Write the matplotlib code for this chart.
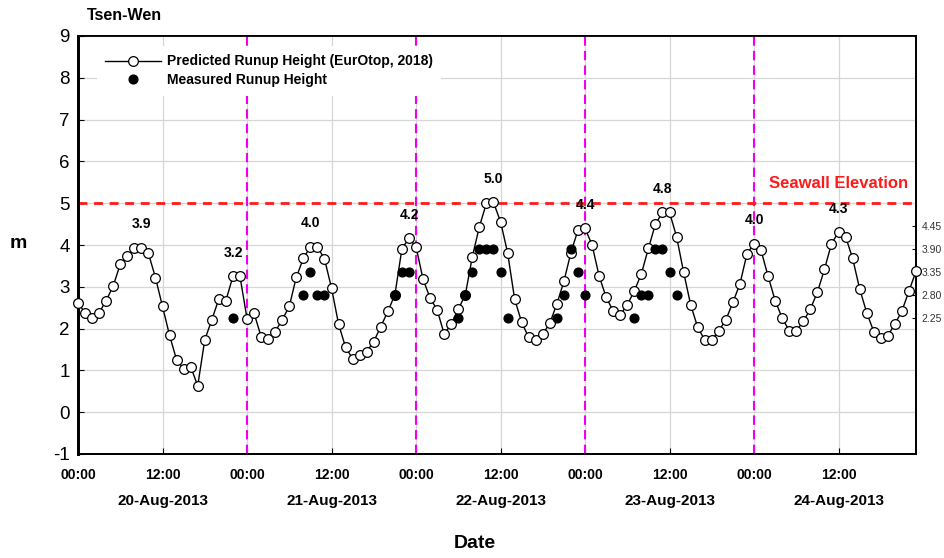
import matplotlib
matplotlib.use("Agg")
import matplotlib.pyplot as plt
import matplotlib.transforms as mtransforms

plt.rcParams['font.family'] = ['Liberation Sans', 'DejaVu Sans']
plt.rcParams['axes.unicode_minus'] = False

# ---------------- data ----------------
# hours since 20-Aug-2013 00:00 (hourly)
predicted = [
    2.61, 2.38, 2.26, 2.38, 2.67, 3.02, 3.54, 3.74, 3.92, 3.94, 3.80, 3.22,
    2.53, 1.84, 1.25, 1.04, 1.09, 0.63, 1.73, 2.21, 2.71, 2.67, 3.25, 3.25,
    2.24, 2.37, 1.81, 1.75, 1.93, 2.21, 2.53, 3.23, 3.68, 3.96, 3.95, 3.67,
    2.97, 2.11, 1.55, 1.28, 1.37, 1.45, 1.69, 2.05, 2.41, 2.81, 3.91, 4.16,
    3.96, 3.18, 2.73, 2.45, 1.87, 2.11, 2.46, 2.81, 3.72, 4.44, 5.00, 5.02,
    4.56, 3.82, 2.71, 2.15, 1.79, 1.73, 1.87, 2.13, 2.59, 3.13, 3.82, 4.36,
    4.40, 4.00, 3.26, 2.75, 2.42, 2.33, 2.57, 2.90, 3.31, 3.92, 4.50, 4.78,
    4.78, 4.20, 3.35, 2.57, 2.03, 1.73, 1.73, 1.95, 2.21, 2.63, 3.07, 3.79,
    4.03, 3.87, 3.25, 2.67, 2.25, 1.95, 1.95, 2.17, 2.47, 2.87, 3.42, 4.03,
    4.31, 4.20, 3.68, 2.95, 2.38, 1.93, 1.77, 1.83, 2.11, 2.42, 2.90, 3.37,
]
hours = list(range(len(predicted)))

measured_hours = [22, 32, 33, 34, 35, 45, 46, 47,
                  54, 55, 56, 57, 58, 59, 60, 61,
                  68, 69, 70, 71, 72,
                  79, 80, 81, 82, 83, 84, 85]
measured_values = [2.25, 2.80, 3.35, 2.80, 2.80, 2.80, 3.35, 3.35,
                   2.25, 2.80, 3.35, 3.90, 3.90, 3.90, 3.35, 2.25,
                   2.25, 2.80, 3.90, 3.35, 2.80,
                   2.25, 2.80, 2.80, 3.90, 3.90, 3.35, 2.80]

peak_hours = [9, 22, 33, 47, 59, 72, 83, 96, 108]
peak_labels = ["3.9", "3.2", "4.0", "4.2", "5.0", "4.4", "4.8", "4.0", "4.3"]

xtick_hours = [0, 12, 24, 36, 48, 60, 72, 84, 96, 108]
xtick_labels = ["00:00", "12:00"] * 5
day_noon_hours = [12, 36, 60, 84, 108]
day_labels = ["20-Aug-2013", "21-Aug-2013", "22-Aug-2013", "23-Aug-2013", "24-Aug-2013"]
midnight_hours = [24, 48, 72, 96]

seawall_elevation = 5.0
right_ticks = [2.25, 2.80, 3.35, 3.90, 4.45]

# ---------------- figure ----------------
fig = plt.figure(figsize=(9.44, 5.58), dpi=100)
ax = fig.add_axes([78 / 944, 1 - 454 / 558, 838 / 944, 418 / 558])

ax.set_xlim(0, 119)
ax.set_ylim(-1, 9)
ax.set_yticks(range(-1, 10))
ax.set_xticks(xtick_hours)
ax.set_xticklabels(xtick_labels, fontsize=10, fontweight='bold')
ax.tick_params(axis='x', direction='in', length=4, pad=10)
ax.tick_params(axis='y', direction='in', length=4, pad=6, labelsize=13.5)
ax.grid(True, color='#d6d6d6', lw=0.9)
ax.set_axisbelow(True)

for s in ['top', 'right', 'bottom']:
    ax.spines[s].set_linewidth(1.3)
ax.spines['left'].set_linewidth(2.0)

# midnight separators
for h in midnight_hours:
    ax.axvline(h, color='#ee00ee', lw=1.5, dashes=(4.5, 2.5), zorder=2)

# seawall elevation
ax.axhline(seawall_elevation, color='#ff1a1a', lw=2.0, dashes=(3.2, 2.4), zorder=2)
ax.text(117.9, seawall_elevation + 0.48, "Seawall Elevation", color='#ff1a1a',
        fontsize=12, fontweight='bold', ha='right', va='center')

ln, = ax.plot(hours, predicted, '-o', color='black', lw=1.0, ms=7,
              mfc='white', mec='black', mew=0.9, zorder=6, clip_on=False,
              label="Predicted Runup Height (EurOtop, 2018)")
sc, = ax.plot(measured_hours, measured_values, 'o', color='black', ms=6.3,
              ls='none', zorder=7, label="Measured Runup Height")

for h, lab in zip(peak_hours, peak_labels):
    ax.text(h, predicted[h] + 0.56, lab, fontsize=10, fontweight='bold',
            ha='center', va='center', zorder=8)

trans = mtransforms.blended_transform_factory(ax.transData, ax.transAxes)
for h, lab in zip(day_noon_hours, day_labels):
    ax.text(h, -0.113, lab, transform=trans, fontsize=11, fontweight='bold',
            ha='center', va='center')

leg = ax.legend(handles=[ln, sc], loc='upper left', bbox_to_anchor=(0.0227, 0.976),
                borderaxespad=0, frameon=True, fancybox=False, edgecolor='none',
                facecolor='white', framealpha=1, handlelength=4,
                handletextpad=0.45, borderpad=0.6, labelspacing=0.35,
                prop={'weight': 'bold', 'size': 10}, numpoints=1)
leg.set_zorder(9)

# right axis
ax2 = ax.twinx()
ax2.set_ylim(-1, 9)
ax2.set_yticks(right_ticks)
ax2.set_yticklabels([f"{v:.2f}" for v in right_ticks])
ax2.tick_params(axis='y', direction='in', length=3, pad=4, labelsize=7.5,
                labelcolor='#333333')
for s in ['top', 'right', 'bottom']:
    ax2.spines[s].set_linewidth(1.3)
ax2.spines['left'].set_linewidth(2.0)
ax.set_zorder(ax2.get_zorder() + 1)
ax.patch.set_visible(False)

fig.text(87 / 944, 1 - 16 / 558, "Tsen-Wen", fontsize=11.5, fontweight='bold',
         ha='left', va='center')
fig.text(18 / 944, 1 - 243 / 558, "m", fontsize=14, fontweight='bold',
         ha='center', va='center')
fig.text(475 / 944, 1 - 544 / 558, "Date", fontsize=14, fontweight='bold',
         ha='center', va='center')

fig.savefig("out.png", dpi=100)
